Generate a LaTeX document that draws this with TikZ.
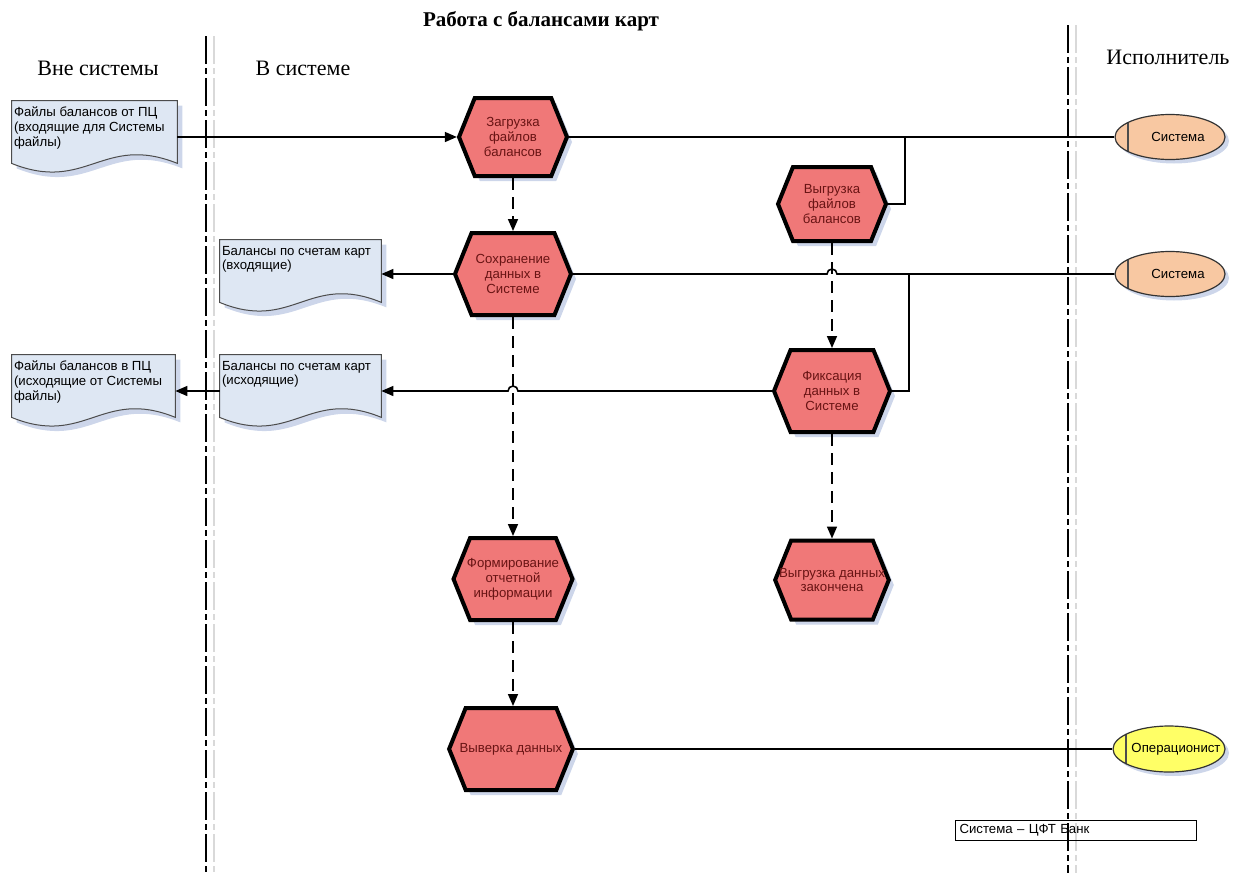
\documentclass[tikz,border=0pt]{standalone}
\usepackage{fontspec}
\setmainfont{Liberation Serif}
\setsansfont{Liberation Sans}
\usetikzlibrary{shapes.symbols, shapes.geometric, shadows, arrows.meta, calc}
\definecolor{evfill}{RGB}{240,120,120}
\definecolor{evtext}{RGB}{105,20,20}
\definecolor{docfill}{RGB}{222,231,243}
\definecolor{shadowc}{RGB}{205,214,234}
\definecolor{sysfill}{RGB}{248,200,162}
\definecolor{opfill}{RGB}{255,255,102}
\newcommand{\smallfont}{\sffamily\fontsize{6.6}{7.4}\selectfont}
\newcommand{\docshape}[1]{%
  \draw[docline] (#1.north west) -- (#1.north east) -- (#1.south east)
    .. controls ($(#1.south west)!0.55!(#1.south east)+(0,-30)$)
    and ($(#1.south west)!0.45!(#1.south east)+(0,30)$) .. (#1.south west) -- cycle;}

\begin{document}
\begin{tikzpicture}[x=0.5pt,y=-0.5pt]
	\tikzset{
		event/.style={%
			signal, signal to=east and west,
			signal pointer angle=136,
			draw=black, line width=2pt,
			fill=evfill, text=evtext,
			font=\smallfont, align=center,
			inner xsep=-3pt, inner ysep=1pt,
			minimum width=58pt, minimum height=41pt,
			drop shadow={shadow xshift=2.5pt, shadow yshift=-2.5pt, fill=shadowc, opacity=1}},
		docbox/.style={inner sep=0pt, minimum width=81pt, minimum height=31pt},
		doctext/.style={anchor=north west, font=\smallfont, align=left, inner xsep=1pt, inner ysep=3pt},
		docline/.style={draw=black!70, line width=0.5pt, fill=docfill,
			drop shadow={shadow xshift=2.5pt, shadow yshift=-2.5pt, fill=shadowc, opacity=1}},
		actor/.style={%
			ellipse, draw=black!80, line width=0.6pt,
			inner sep=0pt, minimum width=55pt, minimum height=22.5pt,
			drop shadow={shadow xshift=2pt, shadow yshift=-2pt, fill=shadowc, opacity=1},
			path picture={\draw[line width=0.6pt, black!70]
				([xshift=6.5pt]path picture bounding box.north west) --
				([xshift=6.5pt]path picture bounding box.south west);}},
		actortext/.style={font=\smallfont},
		lane/.style={line width=0.6pt, dash pattern=on 14pt off 2pt on 3pt off 2pt},
		laneshade/.style={lane, draw=black!15}
	}

	\tikzstyle{flow} = [draw=black, line width=0.8pt]
	\tikzstyle{flowarrow} = [flow, -{Triangle[length=6pt,width=5pt]}]
	\tikzstyle{ctrl} = [flowarrow, dash pattern=on 6pt off 3.5pt]

	\useasboundingbox (0,0) rectangle (1233,873);

	% lanes and headings
	\draw[laneshade] (214,36) -- (214,873);
	\draw[laneshade] (1076,25) -- (1076,873);
	\draw[lane] (206,36) -- (206,873);
	\draw[lane] (1068,25) -- (1068,873);

	\node[font=\bfseries\fontsize{10.5}{12}\selectfont] (title) at (541,21) {Работа с балансами карт};
	\node[font=\fontsize{11}{13}\selectfont] (hout) at (98,68) {Вне системы};
	\node[font=\fontsize{11}{13}\selectfont] (hin) at (303,68) {В системе};
	\node[font=\fontsize{11}{13}\selectfont] (hexec) at (1168,57) {Исполнитель};

	% events
	\node[event, minimum width=54pt, minimum height=39pt] (zag) at (513,137) {Загрузка\\файлов\\балансов};
	\node[event, minimum width=54pt, minimum height=37pt] (vygr) at (832,204) {Выгрузка\\файлов\\балансов};
	\node[event] (sohr) at (513,274) {Сохранение\\данных в\\Системе};
	\node[event] (fiks) at (832,391) {Фиксация\\данных в\\Системе};
	\node[event, minimum width=59.5pt] (form) at (513,579) {Формирование\\отчетной\\информации};
	\node[event, inner xsep=-6pt, minimum width=56pt, minimum height=39.5pt] (done) at (832,580) {Выгрузка данных\\закончена};
	\node[event, minimum width=59.5pt] (vyver) at (511,749) {Выверка данных};

	% documents
	\node[docbox, minimum width=82.5pt] (docin) at (94.5,132) {};
	\node[docbox, minimum width=80.5pt] (balin) at (300.5,271) {};
	\node[docbox, minimum width=81.5pt] (docout) at (93.5,386) {};
	\node[docbox, minimum width=80.5pt] (balout) at (300.5,386) {};
	\docshape{docin}
	\docshape{balin}
	\docshape{docout}
	\docshape{balout}
	\node[doctext] (docint) at (docin.north west) {Файлы балансов от ПЦ\\(входящие для Системы\\файлы)};
	\node[doctext] (balint) at (balin.north west) {Балансы по счетам карт\\(входящие)};
	\node[doctext] (docoutt) at (docout.north west) {Файлы балансов в ПЦ\\(исходящие от Системы\\файлы)};
	\node[doctext] (baloutt) at (balout.north west) {Балансы по счетам карт\\(исходящие)};

	% performers
	\node[actor, fill=sysfill, label={[actortext, xshift=4pt]center:Система}] (sys1) at (1170,137) {};
	\node[actor, fill=sysfill, label={[actortext, xshift=4pt]center:Система}] (sys2) at (1170,274) {};
	\node[actor, fill=opfill, minimum width=56pt, minimum height=23pt,
		label={[actortext, xshift=3.5pt]center:Операционист}] (oper) at (1169,749) {};

	\node[draw, line width=0.5pt, minimum width=120.5pt, minimum height=10pt, inner sep=1pt,
		text width=116pt, align=left, font=\smallfont] (legend) at (1075.5,830) {Система – ЦФТ Банк};

	% jump points
	\coordinate (hop1) at (vygr.south |- sohr.east);
	\coordinate (hop2) at (sohr.south |- fiks.west);

	% connectors
	\draw[flowarrow] (zag.west -| docin.east) -- (zag.west);
	\draw[flow] (zag.east) -- (sys1.west);
	\draw[flow] (vygr.east) -- ++(17,0) |- (sys1.west);
	\draw[flowarrow] (sohr.west) -- (sohr.west -| balin.east);
	\draw[flow] (sohr.east) -- ([xshift=-2.5pt]hop1) arc[start angle=180, end angle=0, radius=2.5pt] -- (sys2.west);
	\draw[flow] (fiks.east) -- ++(17,0) |- (sys2.west);
	\draw[flowarrow] (fiks.west) -- ([xshift=2.5pt]hop2) arc[start angle=0, end angle=180, radius=2.5pt] -- (fiks.west -| balout.east);
	\draw[flowarrow] (fiks.west -| balout.west) -- (fiks.west -| docout.east);
	\draw[flow] (vyver.east) -- (oper.west);

	\draw[ctrl] (zag.south) -- (sohr.north);
	\draw[ctrl] (sohr.south) -- (form.north);
	\draw[ctrl] (form.south) -- (vyver.north -| form.south);
	\draw[ctrl] (vygr.south) -- (fiks.north);
	\draw[ctrl] (fiks.south) -- (done.north);

\end{tikzpicture}
\end{document}
